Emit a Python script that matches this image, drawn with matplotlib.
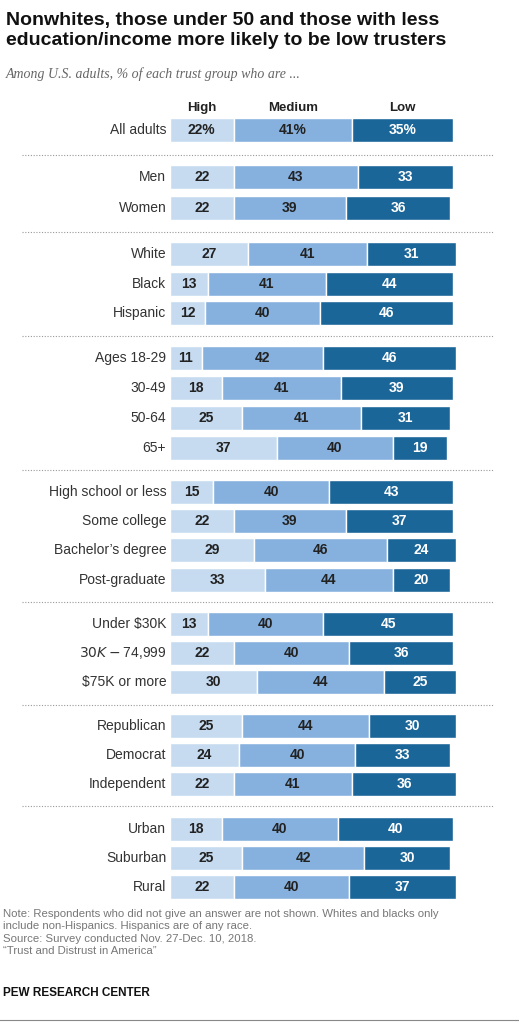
import matplotlib
matplotlib.use("Agg")
import matplotlib.pyplot as plt

categories = ["All adults", "Men", "Women", "White", "Black", "Hispanic",
              "Ages 18-29", "30-49", "50-64", "65+",
              "High school or less", "Some college", "Bachelor\u2019s degree", "Post-graduate",
              "Under $30K", "$30K-$74,999", "$75K or more",
              "Republican", "Democrat", "Independent",
              "Urban", "Suburban", "Rural"]
high = [22, 22, 22, 27, 13, 12, 11, 18, 25, 37, 15, 22, 29, 33, 13, 22, 30, 25, 24, 22, 18, 25, 22]
medium = [41, 43, 39, 41, 41, 40, 42, 41, 41, 40, 40, 39, 46, 44, 40, 40, 44, 44, 40, 41, 40, 42, 40]
low = [35, 33, 36, 31, 44, 46, 46, 39, 31, 19, 43, 37, 24, 20, 45, 36, 25, 30, 33, 36, 40, 30, 37]
group_sizes = [1, 2, 3, 4, 4, 3, 3, 3]

# layout (pixel rows)
ypos = [130, 177, 208, 254, 284, 313, 358, 388, 418, 448, 492, 521, 550, 580,
        624, 653, 682, 726, 755, 784, 829, 858, 887]
seps = [155, 232, 336, 470, 602, 705, 806]

W, H = 519, 1023
fig = plt.figure(figsize=(W/100, H/100), dpi=100)
x0 = 170
ax = fig.add_axes([x0/W, 0, 289/W, 1])
ax.set_xlim(0, 100)
ax.set_ylim(H, 0)
ax.axis("off")

c_hi, c_med, c_low = "#c6dbf0", "#86b1de", "#1b6699"
bh = 24
font = "Liberation Sans"
for i, cat in enumerate(categories):
    y = ypos[i]
    h, m, l = high[i], medium[i], low[i]
    ax.barh(y, h, left=0, height=bh, color=c_hi, edgecolor="white", linewidth=1)
    ax.barh(y, m, left=h, height=bh, color=c_med, edgecolor="white", linewidth=1)
    ax.barh(y, l, left=h + m, height=bh, color=c_low, edgecolor="white", linewidth=1)
    suf = "%" if i == 0 else ""
    ax.text(h/2, y, f"{h}{suf}", ha="center", va="center", fontsize=10, fontweight="bold", color="#222222", family=font)
    ax.text(h + m/2, y, f"{m}{suf}", ha="center", va="center", fontsize=10, fontweight="bold", color="#222222", family=font)
    ax.text(h + m + l/2, y, f"{l}{suf}", ha="center", va="center", fontsize=10, fontweight="bold", color="white", family=font)
    ax.text(-1.3, y, cat, ha="right", va="center", fontsize=10, color="#333333", family=font)

for name, xc in [("High", 22/2), ("Medium", 22 + 41/2), ("Low", 63 + 35/2)]:
    ax.text(xc, 108, name, ha="center", va="center", fontsize=9.5, fontweight="bold", color="#222222", family=font)

for s in seps:
    fig.add_artist(plt.Line2D([22/W, 493/W], [1 - s/H, 1 - s/H], color="#999999", linestyle=(0, (1, 1.5)), linewidth=0.8))

fig.text(6/W, 1 - 12/H, "Nonwhites, those under 50 and those with less\neducation/income more likely to be low trusters",
         ha="left", va="top", fontsize=14, fontweight="bold", color="#111111", family=font, linespacing=1.2)
fig.text(6/W, 1 - 74/H, "Among U.S. adults, % of each trust group who are ...", ha="left", va="center",
         fontsize=10, style="italic", color="#666666", family="Liberation Serif")
fig.text(3/W, 1 - 909/H, "Note: Respondents who did not give an answer are not shown. Whites and blacks only\n"
         "include non-Hispanics. Hispanics are of any race.\nSource: Survey conducted Nov. 27-Dec. 10, 2018.\n"
         "\u201cTrust and Distrust in America\u201d", ha="left", va="top", fontsize=8.2, color="#777777",
         family=font, linespacing=1.3)
fig.text(3/W, 1 - 993/H, "PEW RESEARCH CENTER", ha="left", va="center", fontsize=8.5, fontweight="bold",
         color="#111111", family=font)
fig.add_artist(plt.Line2D([0, 1], [1 - 1020/H, 1 - 1020/H], color="#888888", linewidth=0.8))

fig.savefig("out.png", dpi=100)
